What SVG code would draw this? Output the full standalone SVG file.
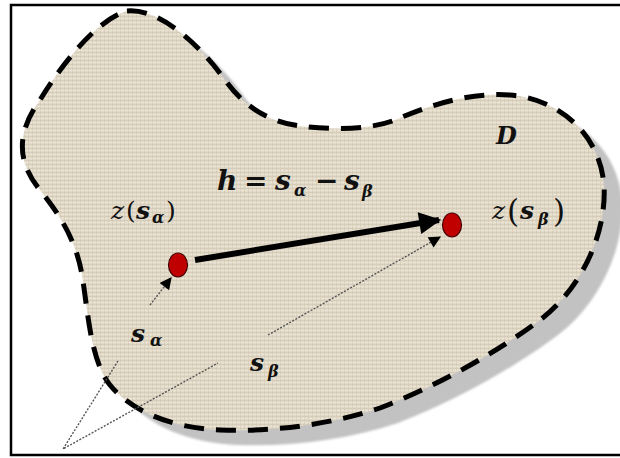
<svg xmlns="http://www.w3.org/2000/svg" width="620" height="458" viewBox="0 0 620 458">
  <style>
    .math { font-family: "DejaVu Serif", "Liberation Serif", serif; fill: #111; }
    .bi { font-weight: bold; font-style: italic; }
    .it { font-style: italic; }
    .sub { font-size: 16px; }
    .dotted { fill: none; stroke: #555; stroke-width: 1.4; stroke-dasharray: 2 1.5; }
  </style>
  <defs>
    <pattern id="linen" width="4" height="4" patternUnits="userSpaceOnUse">
      <rect width="4" height="4" fill="#e4dcca"/>
      <path d="M0,0.5H4M0.5,0V4" stroke="#cbc1ad" stroke-width="1" opacity="0.6"/>
      <path d="M0,2.5H4" stroke="#f0e9dc" stroke-width="0.8" opacity="0.6"/>
    </pattern>
    <filter id="blur" x="-10%" y="-10%" width="120%" height="120%">
      <feGaussianBlur stdDeviation="1.2"/>
    </filter>
    <path id="blob" d="M127,11 C160,8 200,45 225,80 C245,108 270,122 300,126 C330,130 370,130 395,120 C430,105 470,92 510,95 C560,99 600,135 604,185 C607,235 580,290 540,320 C500,350 440,385 380,408 C330,425 270,432 220,430 C170,428 130,410 110,385 C90,360 88,310 82,275 C76,240 60,215 40,190 C15,160 18,130 40,100 C58,70 95,20 127,11 Z"/>
    <marker id="bigHead" viewBox="0 0 10 10" refX="9" refY="5" markerWidth="26" markerHeight="22" markerUnits="userSpaceOnUse" orient="auto">
      <path d="M0,0 L10,5 L0,10 Z" fill="#000"/>
    </marker>
    <marker id="smallHead" viewBox="0 0 10 10" refX="9" refY="5" markerWidth="13" markerHeight="12" markerUnits="userSpaceOnUse" orient="auto">
      <path d="M0,0 L10,5 L0,10 Z" fill="#000"/>
    </marker>
  </defs>

  <rect width="620" height="458" fill="#fff"/>
  <rect x="11" y="5" width="620" height="450" fill="none" stroke="#000" stroke-width="2.5"/>

  <g id="region-D">
    <use href="#blob" transform="translate(18,15)" fill="#c2c2c2" filter="url(#blur)"/>
    <use href="#blob" fill="url(#linen)"/>
    <use href="#blob" fill="none" stroke="#000" stroke-width="5" stroke-dasharray="20 12"/>
    <text class="math bi" x="496" y="144" font-size="24">D</text>
  </g>

  <g id="connectors">
    <line x1="195" y1="260" x2="439" y2="220" stroke="#000" stroke-width="6" marker-end="url(#bigHead)"/>
    <line class="dotted" x1="150" y1="305" x2="171" y2="278" marker-end="url(#smallHead)"/>
    <line class="dotted" x1="268" y1="335" x2="440" y2="237" marker-end="url(#smallHead)"/>
    <polyline class="dotted" points="118,361 63,449 218,363" stroke="#666" stroke-width="1.2"/>
  </g>

  <g id="point-a">
    <ellipse cx="178" cy="265" rx="9.5" ry="12" fill="#c00000" stroke="#400" stroke-width="1.2"/>
    <text class="math" x="111" y="219" font-size="25"><tspan class="it">z</tspan><tspan x="126">(</tspan><tspan class="bi" x="136">s</tspan><tspan class="bi sub" x="152" y="223">α</tspan><tspan x="166" y="219">)</tspan></text>
  </g>

  <g id="point-b">
    <ellipse cx="452" cy="225" rx="9.5" ry="12" fill="#c00000" stroke="#400" stroke-width="1.2"/>
    <text class="math" x="492" y="219" font-size="25"><tspan class="it">z</tspan><tspan x="507" font-size="31" y="222">(</tspan><tspan class="bi" x="520" y="219">s</tspan><tspan class="bi sub" x="538" y="225">β</tspan><tspan x="553" font-size="31" y="222">)</tspan></text>
  </g>

  <g id="equation">
    <text class="math bi" x="217" y="190" font-size="28">h<tspan x="244" font-style="normal" font-weight="bold">=</tspan><tspan x="275">s</tspan><tspan class="sub" x="294" y="196">α</tspan><tspan x="315" y="190" font-style="normal">−</tspan><tspan x="344">s</tspan><tspan class="sub" x="362" y="197">β</tspan></text>
  </g>

  <g id="label-sa">
    <text class="math bi" x="131" y="342" font-size="25">s<tspan class="sub" x="150" y="346">α</tspan></text>
  </g>
  <g id="label-sb">
    <text class="math bi" x="250" y="371" font-size="25">s<tspan class="sub" x="268" y="377">β</tspan></text>
  </g>
</svg>
